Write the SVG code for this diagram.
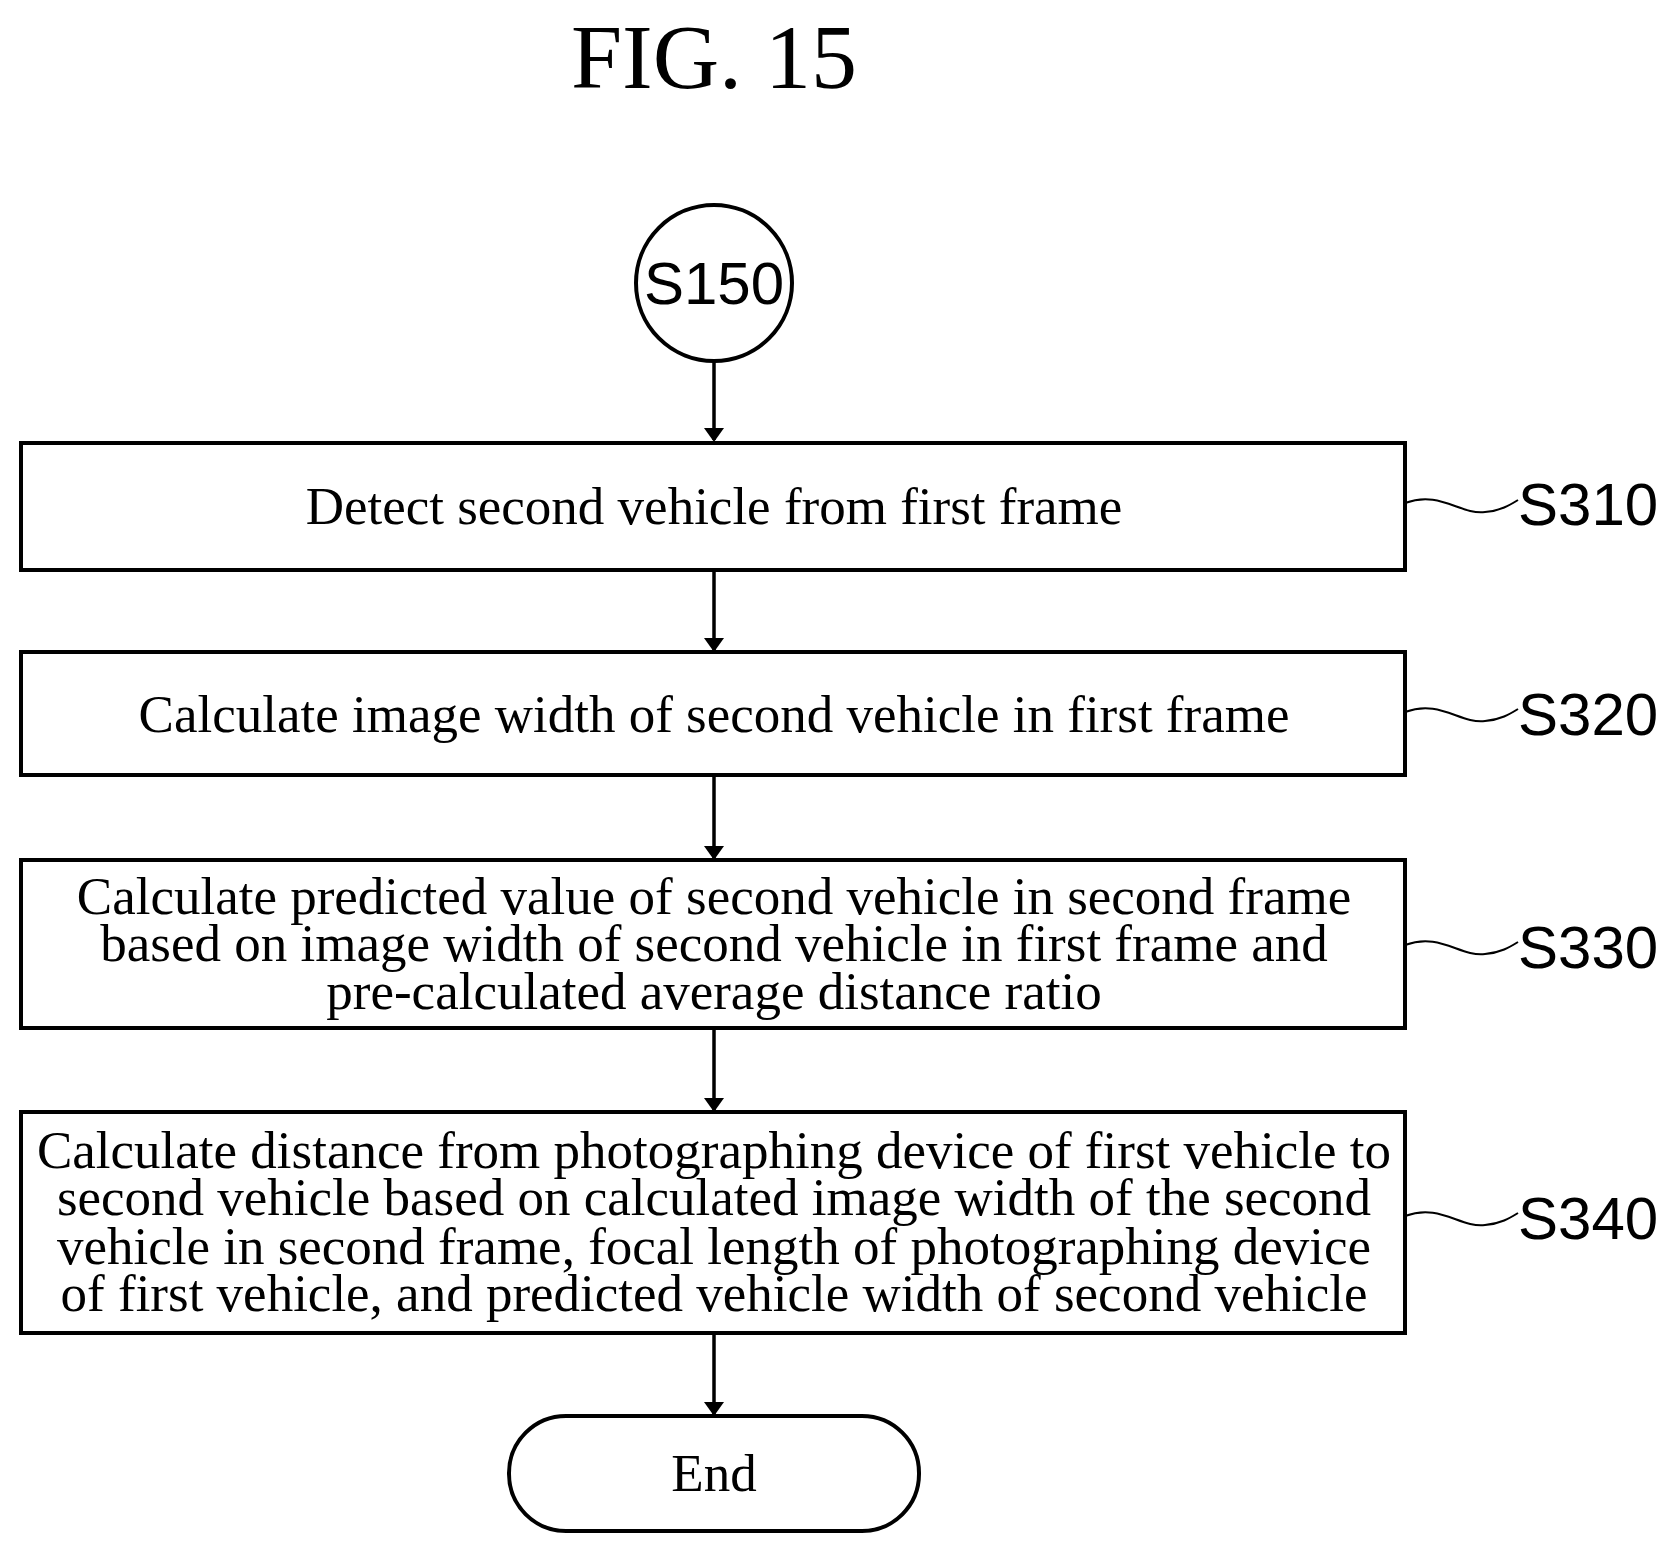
<svg xmlns="http://www.w3.org/2000/svg" width="1673" height="1552" viewBox="0 0 1673 1552">
<style>
.b{fill:#fff;stroke:#000;stroke-width:4}
.t{font-family:"Liberation Serif",serif;font-size:53px;text-anchor:middle}
.l{font-family:"Liberation Sans",sans-serif;font-size:60px}
.c{fill:none;stroke:#000;stroke-width:3.5}
.s{fill:none;stroke:#000;stroke-width:2}
</style>
<defs><marker id="a" markerWidth="14" markerHeight="20" refX="12" refY="10" orient="auto" markerUnits="userSpaceOnUse"><path d="M0,0 L14,10 L0,20 Z"/></marker></defs>
<rect width="1673" height="1552" fill="#fff"/>
<text x="714" y="88" font-family="Liberation Serif,serif" font-size="92" text-anchor="middle">FIG. 15</text>
<g id="connectors">
<line class="c" x1="714" y1="362" x2="714" y2="440" marker-end="url(#a)"/>
<line class="c" x1="714" y1="570" x2="714" y2="650" marker-end="url(#a)"/>
<line class="c" x1="714" y1="775" x2="714" y2="858" marker-end="url(#a)"/>
<line class="c" x1="714" y1="1028" x2="714" y2="1110" marker-end="url(#a)"/>
<line class="c" x1="714" y1="1333" x2="714" y2="1414" marker-end="url(#a)"/>
<path class="s" d="M1405,503 C1440,490 1460,515 1485,512 C1500,511 1510,505 1518,500"/>
<path class="s" d="M1405,712 C1440,699 1460,724 1485,721 C1500,720 1510,714 1518,709"/>
<path class="s" d="M1405,945 C1440,932 1460,957 1485,954 C1500,953 1510,947 1518,942"/>
<path class="s" d="M1405,1216 C1440,1203 1460,1228 1485,1225 C1500,1224 1510,1218 1518,1213"/>
</g>
<g id="s150"><circle class="b" cx="714" cy="283" r="78"/><text x="714" y="304" class="l" text-anchor="middle">S150</text></g>
<g id="s310"><rect class="b" x="21" y="443" width="1384" height="127"/><text class="t" x="714" y="524">Detect second vehicle from first frame</text><text class="l" x="1518" y="525">S310</text></g>
<g id="s320"><rect class="b" x="21" y="652" width="1384" height="123"/><text class="t" x="714" y="732">Calculate image width of second vehicle in first frame</text><text class="l" x="1518" y="735">S320</text></g>
<g id="s330"><rect class="b" x="21" y="860" width="1384" height="168"/><text class="t" x="714" y="914">Calculate predicted value of second vehicle in second frame</text><text class="t" x="714" y="961">based on image width of second vehicle in first frame and</text><text class="t" x="714" y="1009">pre-calculated average distance ratio</text><text class="l" x="1518" y="968">S330</text></g>
<g id="s340"><rect class="b" x="21" y="1112" width="1384" height="221"/><text class="t" x="714" y="1168">Calculate distance from photographing device of first vehicle to</text><text class="t" x="714" y="1215">second vehicle based on calculated image width of the second</text><text class="t" x="714" y="1264">vehicle in second frame, focal length of photographing device</text><text class="t" x="714" y="1311">of first vehicle, and predicted vehicle width of second vehicle</text><text class="l" x="1518" y="1239">S340</text></g>
<g id="end"><rect class="b" x="509" y="1416" width="410" height="115" rx="57"/><text class="t" x="714" y="1491">End</text></g>
</svg>
